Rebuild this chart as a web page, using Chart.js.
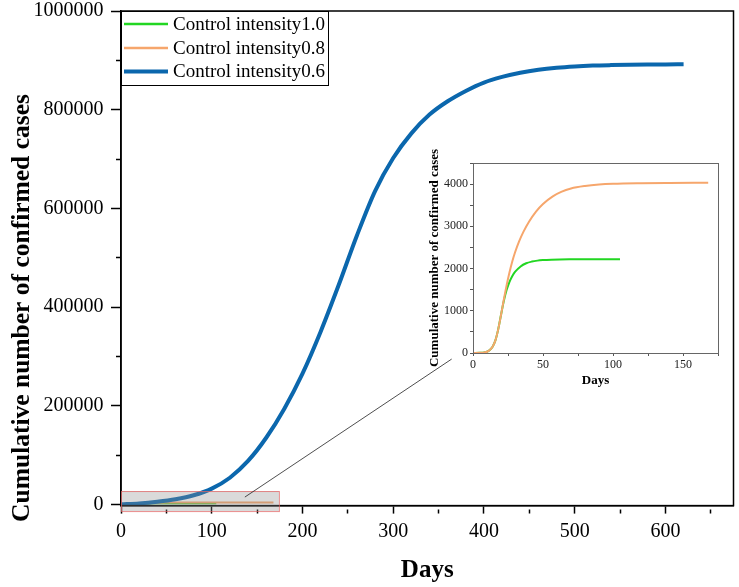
<!DOCTYPE html>
<html>
<head>
<meta charset="utf-8">
<script src="https://cdn.jsdelivr.net/npm/chart.js@4/dist/chart.umd.min.js"></script>
<style>
  body { margin: 0; background: #fff; }
  #wrap { position: relative; width: 739px; height: 587px; }
  #main { position: absolute; left: 0; top: 0; }
  #inset { position: absolute; left: 420px; top: 148px; }
</style>
</head>
<body>
<div id="wrap">
  <canvas id="main" width="739" height="587"></canvas>
  <canvas id="inset" width="310" height="245"></canvas>
</div>
<script>
// === Series
const blueDays = [0, 20, 40, 60, 80, 100, 120, 140, 160, 180, 200, 220, 240, 260, 280, 300,
  320, 340, 360, 380, 400, 420, 440, 460, 480, 500, 520, 540, 560, 580, 600, 620];
const blueCases = [0, 2000, 5500, 10500, 18500, 32000, 54000, 88000, 135000, 194000, 265000,
  350000, 445000, 545000, 635000, 702000, 752000, 790000, 817000, 838000, 855000, 866500,
  875000, 881000, 885000, 887600, 889300, 890300, 891000, 891500, 891800, 892000];

const orangeDays = [0, 5, 8, 10, 12, 14, 16, 18, 20, 22, 24, 26, 28, 30, 33, 36, 40, 45, 50,
  57, 63, 70, 80, 90, 100, 120, 140, 168];
const orangeCases = [0, 3, 12, 30, 70, 150, 300, 560, 900, 1260, 1600, 1900, 2160, 2380, 2650,
  2870, 3110, 3350, 3530, 3710, 3815, 3895, 3955, 3990, 4008, 4022, 4028, 4032];

const greenDays = [0, 5, 8, 10, 12, 14, 16, 18, 20, 22, 24, 26, 28, 30, 34, 38, 42, 46, 50,
  56, 62, 70, 80, 90, 105];
const greenCases = [0, 3, 12, 30, 70, 150, 300, 560, 900, 1230, 1490, 1680, 1820, 1920, 2050,
  2125, 2165, 2188, 2200, 2210, 2215, 2218, 2220, 2220, 2221];

const seriesLabels = ["Control intensity1.0", "Control intensity0.8", "Control intensity0.6"];
const seriesColors = ["#22d622", "#f6a66c", "#0b67ad"];

// === Tick labels
const mainXTicks = [0, 100, 200, 300, 400, 500, 600];
const mainYTicks = [0, 200000, 400000, 600000, 800000, 1000000];
const insetXTicks = [0, 50, 100, 150];
const insetYTicks = [0, 1000, 2000, 3000, 4000];

const serif = "'Times New Roman', 'Liberation Serif', serif";
const pts = (xs, ys) => xs.map((x, i) => ({ x: x, y: ys[i] }));

// major + minor tick positions between lo and hi
function tickList(lo, hi, step) {
  const out = [];
  for (let v = lo; v <= hi + 1e-9; v += step) out.push({ value: v });
  return out;
}

// minor ticks: only the inner part of the tick line is drawn
const minorDash = (majors, gap) => c =>
  majors.includes(c.tick && c.tick.value) ? [] : [0, gap, 5, 100];

// keep the plot area where the layout padding puts it
const fixX = h => s => { s.height = h; s.paddingLeft = 0; s.paddingRight = 0; };
const fixY = w => s => { s.width = w; s.paddingTop = 0; s.paddingBottom = 0; };

function lineSet(i, xs, ys, width, order) {
  return {
    label: seriesLabels[i],
    data: pts(xs, ys),
    borderColor: seriesColors[i],
    borderWidth: width,
    pointRadius: 0,
    cubicInterpolationMode: "monotone",
    fill: false,
    order: order
  };
}

// === Box around the zoomed area + connector line, legend, y title
const zoomBox = { x0: 0, x1: 174, y0: -13600, y1: 27000 };
const connector = { x0: 136.5, y0: 14800, x1: 364.4, y1: 294500 };

const mainExtras = {
  id: "mainExtras",
  afterDraw(chart) {
    const { ctx, chartArea: a, scales: { x, y } } = chart;
    ctx.save();
    // frame (top/right)
    ctx.strokeStyle = "#000";
    ctx.lineWidth = 1.5;
    ctx.strokeRect(a.left, a.top, a.right - a.left, a.bottom - a.top);

    // zoom box
    const bx = x.getPixelForValue(zoomBox.x0), bx1 = x.getPixelForValue(zoomBox.x1);
    const by = y.getPixelForValue(zoomBox.y1), by1 = y.getPixelForValue(zoomBox.y0);
    ctx.fillStyle = "rgba(140,140,140,0.32)";
    ctx.fillRect(bx, by, bx1 - bx, by1 - by);
    ctx.strokeStyle = "rgba(225,100,100,0.75)";
    ctx.lineWidth = 1;
    ctx.strokeRect(bx + 0.5, by + 0.5, bx1 - bx, by1 - by);

    // connector
    ctx.strokeStyle = "#222";
    ctx.lineWidth = 0.8;
    ctx.beginPath();
    ctx.moveTo(x.getPixelForValue(connector.x0), y.getPixelForValue(connector.y0));
    ctx.lineTo(x.getPixelForValue(connector.x1), y.getPixelForValue(connector.y1));
    ctx.stroke();

    // legend
    const lx = a.left, ly = a.top, lw = 207, lh = 74;
    ctx.fillStyle = "#fff";
    ctx.fillRect(lx, ly, lw, lh);
    ctx.strokeStyle = "#000";
    ctx.lineWidth = 1;
    ctx.strokeRect(lx + 0.5, ly + 0.5, lw, lh);
    const rows = [13, 37, 60.5];
    const widths = [2.5, 2.5, 4];
    ctx.font = "19px " + serif;
    ctx.textBaseline = "middle";
    ctx.textAlign = "left";
    seriesLabels.forEach((lab, i) => {
      ctx.strokeStyle = seriesColors[i];
      ctx.lineWidth = widths[i];
      ctx.beginPath();
      ctx.moveTo(lx + 3, ly + rows[i]);
      ctx.lineTo(lx + 47, ly + rows[i]);
      ctx.stroke();
      ctx.fillStyle = "#000";
      ctx.fillText(lab, lx + 52, ly + rows[i] + 1);
    });

    // y title
    ctx.translate(22, 308);
    ctx.rotate(-Math.PI / 2);
    ctx.font = "bold 25.5px " + serif;
    ctx.textAlign = "center";
    ctx.fillStyle = "#000";
    ctx.fillText("Cumulative number of confirmed cases", 0, 0);
    ctx.restore();
  }
};

new Chart(document.getElementById("main").getContext("2d"), {
  type: "line",
  data: {
    datasets: [
      lineSet(0, greenDays, greenCases, 2, 3),
      lineSet(1, orangeDays, orangeCases, 2, 2),
      lineSet(2, blueDays, blueCases, 4, 1)
    ]
  },
  options: {
    responsive: false,
    animation: false,
    devicePixelRatio: 1,
    layout: { padding: { top: 11, right: 5.5, left: 0, bottom: 0 } },
    plugins: { legend: { display: false }, tooltip: { enabled: false } },
    scales: {
      x: {
        type: "linear", min: 0, max: 675,
        afterBuildTicks: s => { s.ticks = tickList(0, 650, 50); },
        afterFit: fixX(81.4),
        ticks: {
          autoSkip: false, maxRotation: 0, padding: 6.5, color: "#000",
          font: { family: serif, size: 20 },
          callback: v => mainXTicks.includes(v) ? String(v) : ""
        },
        grid: {
          drawOnChartArea: false, tickLength: 8, tickColor: "#000", tickWidth: 1.5,
          tickBorderDash: minorDash(mainXTicks, 3)
        },
        border: { color: "#000", width: 1.5 },
        title: {
          display: true, text: "Days", color: "#000",
          font: { family: serif, size: 25, weight: "bold" },
          padding: { top: 0, bottom: 1 }
        }
      },
      y: {
        type: "linear", min: -2500, max: 1000000,
        afterBuildTicks: s => { s.ticks = tickList(0, 1000000, 100000); },
        afterFit: fixY(121),
        ticks: {
          autoSkip: false, padding: 7.5, color: "#000",
          font: { family: serif, size: 20 },
          callback: v => mainYTicks.includes(v) ? String(v) : ""
        },
        grid: {
          drawOnChartArea: false, tickLength: 10, tickColor: "#000", tickWidth: 1.5,
          tickBorderDash: minorDash(mainYTicks, 5)
        },
        border: { color: "#000", width: 1.5 }
      }
    }
  },
  plugins: [mainExtras]
});

// === Inset chart
const insetFrame = {
  id: "insetFrame",
  afterDraw(chart) {
    const { ctx, chartArea: a } = chart;
    ctx.save();
    ctx.strokeStyle = "#666";
    ctx.lineWidth = 1;
    ctx.strokeRect(a.left + 0.5, a.top + 0.5, a.right - a.left, a.bottom - a.top);
    ctx.restore();
  }
};

new Chart(document.getElementById("inset").getContext("2d"), {
  type: "line",
  data: {
    datasets: [
      lineSet(0, greenDays, greenCases, 2, 2),
      lineSet(1, orangeDays, orangeCases, 2, 1)
    ]
  },
  options: {
    responsive: false,
    animation: false,
    devicePixelRatio: 1,
    layout: { padding: { top: 15, right: 12, left: 0, bottom: 0 } },
    plugins: { legend: { display: false }, tooltip: { enabled: false } },
    scales: {
      x: {
        type: "linear", min: 0, max: 175,
        afterBuildTicks: s => { s.ticks = tickList(0, 175, 25); },
        afterFit: fixX(40),
        ticks: {
          autoSkip: false, maxRotation: 0, padding: 2, color: "#222",
          font: { family: serif, size: 12 },
          callback: v => insetXTicks.includes(v) ? String(v) : ""
        },
        grid: { drawOnChartArea: false, tickLength: 3, tickColor: "#555", tickWidth: 1 },
        border: { color: "#555", width: 1 },
        title: {
          display: true, text: "Days", color: "#000",
          font: { family: serif, size: 13, weight: "bold" },
          padding: { top: 0, bottom: 5 }
        }
      },
      y: {
        type: "linear", min: 0, max: 4500,
        afterBuildTicks: s => { s.ticks = tickList(0, 4500, 500); },
        afterFit: fixY(53),
        ticks: {
          autoSkip: false, padding: 2, color: "#222",
          font: { family: serif, size: 12 },
          callback: v => insetYTicks.includes(v) ? String(v) : ""
        },
        grid: { drawOnChartArea: false, tickLength: 3, tickColor: "#555", tickWidth: 1 },
        border: { color: "#555", width: 1 },
        title: {
          display: true, text: "Cumulative number of confirmed cases", color: "#000",
          font: { family: serif, size: 13, weight: "bold" },
          padding: { top: 7, bottom: 0 }
        }
      }
    }
  },
  plugins: [insetFrame]
});
</script>
</body>
</html>
